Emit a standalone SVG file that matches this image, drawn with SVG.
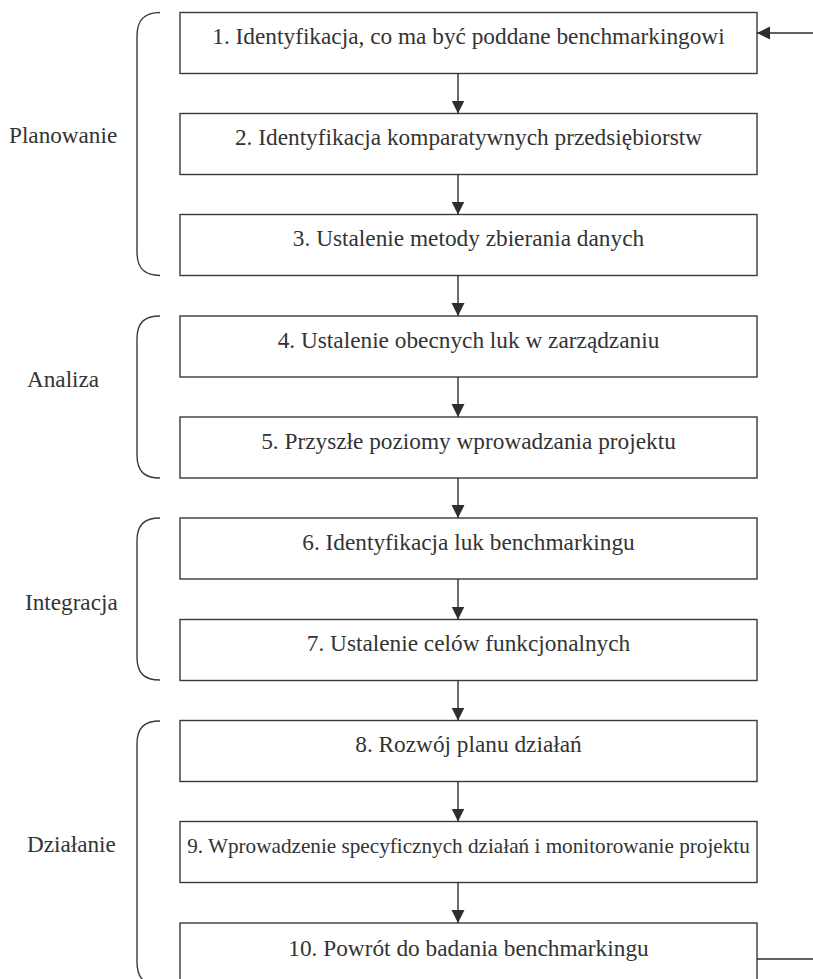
<svg xmlns="http://www.w3.org/2000/svg" width="813" height="979" viewBox="0 0 813 979">
  <style>
    .box { fill: #ffffff; stroke: #3a3a3a; stroke-width: 1.4; }
    .txt { font-family: "Liberation Serif", "Times New Roman", serif; font-size: 23.3px; fill: #333333; text-anchor: middle; }
    .small { font-size: 21.2px; }
    .lbl { font-family: "Liberation Serif", "Times New Roman", serif; font-size: 23.2px; fill: #333333; }
    .brace { fill: none; stroke: #3a3a3a; stroke-width: 1.4; }
    .conn { fill: none; stroke: #2e2e2e; stroke-width: 1.4; }
  </style>
  <defs>
    <marker id="arrow" markerUnits="userSpaceOnUse" markerWidth="14" markerHeight="14" viewBox="0 0 14 14" refX="13" refY="7" orient="auto">
      <path d="M0,0.5 L13,7 L0,13.5 Z" fill="#2e2e2e"/>
    </marker>
  </defs>
  <rect width="813" height="979" fill="#ffffff"/>

  <!-- phase brackets and labels -->
  <g id="phase-planowanie">
    <path class="brace" d="M160,12.5 C145,12.5 137,19 137,36 V252 C137,269 145,275.5 160,275.5"/>
    <text class="lbl" x="9" y="143">Planowanie</text>
  </g>
  <g id="phase-analiza">
    <path class="brace" d="M160,316 C145,316 137,322 137,339 V455 C137,472 145,478 160,478"/>
    <text class="lbl" x="27" y="387">Analiza</text>
  </g>
  <g id="phase-integracja">
    <path class="brace" d="M160,518 C145,518 137,524 137,541 V657 C137,674 145,680 160,680"/>
    <text class="lbl" x="25" y="610">Integracja</text>
  </g>
  <g id="phase-dzialanie">
    <path class="brace" d="M160,721 C145,721 137,727 137,744 V962 C137,979 145,985 160,985"/>
    <text class="lbl" x="27" y="852">Działanie</text>
  </g>

  <!-- steps -->
  <g id="step1">
    <rect class="box" x="180" y="12.5" width="577" height="61"/>
    <text class="txt" x="468.5" y="44">1. Identyfikacja, co ma być poddane benchmarkingowi</text>
  </g>
  <g id="step2">
    <rect class="box" x="180" y="113.5" width="577" height="61"/>
    <text class="txt" x="468.5" y="145">2. Identyfikacja komparatywnych przedsiębiorstw</text>
  </g>
  <g id="step3">
    <rect class="box" x="180" y="214.5" width="577" height="61"/>
    <text class="txt" x="468.5" y="246">3. Ustalenie metody zbierania danych</text>
  </g>
  <g id="step4">
    <rect class="box" x="180" y="316" width="577" height="61"/>
    <text class="txt" x="468.5" y="348">4. Ustalenie obecnych luk w zarządzaniu</text>
  </g>
  <g id="step5">
    <rect class="box" x="180" y="417" width="577" height="61"/>
    <text class="txt" x="468.5" y="449">5. Przyszłe poziomy wprowadzania projektu</text>
  </g>
  <g id="step6">
    <rect class="box" x="180" y="518" width="577" height="61"/>
    <text class="txt" x="468.5" y="550">6. Identyfikacja luk benchmarkingu</text>
  </g>
  <g id="step7">
    <rect class="box" x="180" y="619.5" width="577" height="61"/>
    <text class="txt" x="468.5" y="651">7. Ustalenie celów funkcjonalnych</text>
  </g>
  <g id="step8">
    <rect class="box" x="180" y="720.5" width="577" height="61"/>
    <text class="txt" x="468.5" y="752">8. Rozwój planu działań</text>
  </g>
  <g id="step9">
    <rect class="box" x="180" y="821.5" width="577" height="61"/>
    <text class="txt small" x="468.5" y="853">9. Wprowadzenie specyficznych działań i monitorowanie projektu</text>
  </g>
  <g id="step10">
    <rect class="box" x="180" y="923" width="577" height="80"/>
    <text class="txt" x="468.5" y="956">10. Powrót do badania benchmarkingu</text>
  </g>

  <!-- connectors -->
  <g id="connectors">
    <line class="conn" x1="458" y1="73.5" x2="458" y2="113.5" marker-end="url(#arrow)"/>
    <line class="conn" x1="458" y1="174.5" x2="458" y2="214.5" marker-end="url(#arrow)"/>
    <line class="conn" x1="458" y1="275.5" x2="458" y2="316" marker-end="url(#arrow)"/>
    <line class="conn" x1="458" y1="377" x2="458" y2="417" marker-end="url(#arrow)"/>
    <line class="conn" x1="458" y1="478" x2="458" y2="518" marker-end="url(#arrow)"/>
    <line class="conn" x1="458" y1="579" x2="458" y2="619.5" marker-end="url(#arrow)"/>
    <line class="conn" x1="458" y1="680.5" x2="458" y2="720.5" marker-end="url(#arrow)"/>
    <line class="conn" x1="458" y1="781.5" x2="458" y2="821.5" marker-end="url(#arrow)"/>
    <line class="conn" x1="458" y1="882.5" x2="458" y2="923" marker-end="url(#arrow)"/>
    <!-- feedback loop from step 10 back to step 1 -->
    <polyline class="conn" points="757,959 820,959 820,33 757,33" marker-end="url(#arrow)"/>
  </g>
</svg>
